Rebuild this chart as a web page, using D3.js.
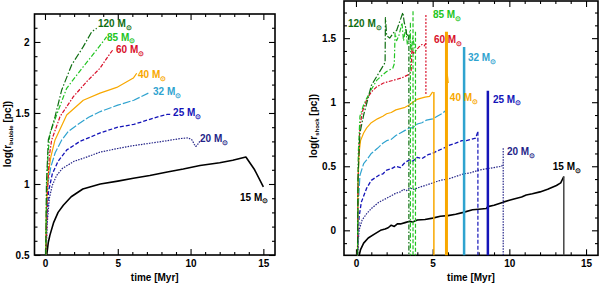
<!DOCTYPE html>
<html><head><meta charset="utf-8">
<script src="https://cdn.jsdelivr.net/npm/d3@7"></script>
<style>
body{margin:0;background:#fff}
svg{display:block}
text{font-family:"Liberation Sans",Arial,sans-serif;font-weight:bold;fill:#000}
</style>
</head><body>
<svg id="c" width="600" height="284"></svg>
<script>
// ---------- data ----------
const masses = ["120","85","60","40","32","25","20","15"];
const xTicks = [0,5,10,15];
const yTicksLeft = [0.5,1,1.5,2];
const yTicksRight = [0,0.5,1,1.5];
const xLabel = "time [Myr]";

// left panel: log(r_bubble [pc]) vs time [Myr]
const bubble120 = [[0.05,0.5],[0.1,1.0],[0.23,1.31],[0.69,1.474],[1.15,1.662],[1.83,1.838],[2.63,1.967],[3.21,2.072],[3.55,2.096]];
const bubble85  = [[0.06,0.5],[0.12,1.0],[0.2,1.2],[0.34,1.357],[0.92,1.52],[1.49,1.674],[2.63,1.826],[3.55,1.944],[4.24,2.037]];
const bubble60  = [[0.08,0.5],[0.15,0.9],[0.3,1.2],[0.46,1.31],[1.03,1.474],[1.95,1.615],[2.86,1.72],[3.78,1.815],[4.24,1.885],[4.7,1.95]];
const bubble40  = [[0.05,0.5],[0.1,0.85],[0.2,1.05],[0.4,1.19],[0.69,1.31],[1.49,1.486],[2.63,1.59],[3.78,1.64],[4.93,1.68],[6.07,1.746],[6.3,1.78]];
const bubble32  = [[0.06,0.5],[0.1,0.8],[0.2,1.0],[0.4,1.12],[0.7,1.22],[1.15,1.31],[1.6,1.37],[2.2,1.415],[3.0,1.47],[3.8,1.51],[5.0,1.555],[6.1,1.59],[7.1,1.64]];
const bubble25  = [[0.07,0.5],[0.12,0.75],[0.25,0.95],[0.5,1.07],[0.9,1.16],[1.5,1.24],[2.4,1.30],[3.8,1.36],[5.0,1.40],[6.1,1.42],[7.2,1.455],[7.8,1.475],[8.4,1.49],[8.6,1.49]];
const bubble20  = [[0.08,0.5],[0.15,0.72],[0.3,0.9],[0.5,0.99],[0.8,1.06],[1.2,1.11],[2.0,1.16],[2.6,1.18],[3.8,1.225],[5.0,1.25],[6.07,1.27],[7.2,1.287],[8.4,1.305],[9.3,1.32],[9.85,1.325],[10.1,1.31],[10.25,1.28],[10.35,1.265],[10.45,1.27],[10.55,1.29],[10.65,1.30]];
const bubble15  = [[0.12,0.5],[0.23,0.59],[0.34,0.64],[0.6,0.73],[0.9,0.80],[1.26,0.85],[1.8,0.91],[2.6,0.965],[3.8,1.0],[5.0,1.02],[6.07,1.04],[7.2,1.06],[8.4,1.085],[9.5,1.105],[10.65,1.13],[12.0,1.15],[12.9,1.167],[13.8,1.19],[14.4,1.10],[15.0,0.98]];

// right panel: log(r_shock [pc]) vs time [Myr]
const shock120 = [[0.1,-0.2],[0.13,0.4],[0.26,0.76],[0.5,0.9],[0.7,0.99],[1.0,1.13],[1.35,1.20],[1.75,1.28],[1.9,1.31],[1.92,1.66],[2.0,1.52],[2.2,1.50],[2.5,1.55],[2.65,1.56],[3.06,1.70],[3.15,1.62],[3.25,1.58],[3.3,1.53],[3.4,1.52],[3.45,1.47]];
const shock85  = [[0.1,-0.2],[0.15,0.6],[0.26,0.89],[0.5,0.98],[0.7,1.03],[1.0,1.10],[1.35,1.17],[1.7,1.21],[2.0,1.24],[2.4,1.265],[2.5,1.30],[2.55,1.54],[2.65,1.48],[2.8,1.52],[3.0,1.62],[3.1,1.48],[3.25,1.58],[3.35,1.45],[3.5,1.55],[3.6,1.40],[3.7,1.50],[3.85,1.42]];
const shock60  = [[0.1,-0.2],[0.15,0.5],[0.25,0.8],[0.4,0.92],[0.7,1.02],[1.0,1.08],[1.35,1.12],[1.8,1.15],[2.4,1.17],[3.0,1.19],[3.5,1.22],[3.6,1.25],[3.65,1.42],[3.75,1.38],[3.9,1.40],[4.1,1.43],[4.3,1.45],[4.45,1.44],[4.56,1.46]];
const shock40  = [[0.1,-0.2],[0.12,0.3],[0.2,0.6],[0.3,0.70],[0.5,0.76],[0.7,0.80],[1.0,0.84],[1.4,0.87],[1.75,0.89],[2.0,0.91],[2.3,0.92],[2.6,0.94],[2.9,0.95],[3.2,0.96],[3.5,0.98],[3.7,1.00],[3.95,1.02],[4.2,1.03],[4.5,1.04],[4.8,1.045],[5.0,1.08]];
const shock40b = [[5.95,1.22],[6.02,1.15]];
const shock32  = [[0.1,-0.2],[0.15,0.2],[0.26,0.43],[0.5,0.52],[0.7,0.55],[1.0,0.6],[1.4,0.64],[1.75,0.68],[2.0,0.70],[2.3,0.71],[2.6,0.74],[2.9,0.76],[3.2,0.78],[3.5,0.80],[3.7,0.80],[4.0,0.83],[4.3,0.84],[4.6,0.86],[5.0,0.87],[5.3,0.89],[5.6,0.91],[5.8,0.93],[5.9,0.92]];
const shock25  = [[0.1,-0.2],[0.2,0.1],[0.35,0.22],[0.7,0.33],[1.0,0.39],[1.5,0.43],[1.75,0.44],[2.0,0.47],[2.3,0.48],[2.6,0.50],[2.9,0.49],[3.2,0.53],[3.5,0.55],[3.7,0.54],[4.0,0.57],[4.3,0.56],[4.7,0.59],[5.0,0.60],[5.3,0.62],[5.7,0.64],[6.0,0.66],[6.5,0.68],[6.9,0.70],[7.2,0.70],[7.5,0.71],[7.8,0.72],[7.95,0.77]];
const shock20  = [[0.1,-0.2],[0.2,0.0],[0.4,0.08],[0.7,0.13],[1.0,0.17],[1.5,0.22],[2.0,0.25],[2.3,0.27],[2.6,0.29],[2.9,0.30],[3.1,0.32],[3.3,0.31],[3.5,0.33],[3.8,0.32],[4.0,0.33],[4.5,0.35],[5.0,0.37],[5.5,0.39],[6.0,0.40],[6.5,0.42],[7.0,0.44],[7.5,0.45],[8.0,0.47],[8.5,0.48],[9.0,0.49],[9.5,0.50],[9.6,0.52]];
const shock15  = [[0.2,-0.2],[0.3,-0.15],[0.5,-0.1],[0.8,-0.06],[1.2,-0.03],[1.6,0.0],[1.9,0.01],[2.1,0.02],[2.3,0.04],[2.5,0.03],[2.7,0.05],[2.9,0.05],[3.2,0.06],[3.5,0.07],[3.7,0.065],[4.0,0.08],[4.5,0.085],[5.0,0.095],[5.5,0.11],[6.0,0.115],[6.5,0.125],[7.0,0.14],[7.6,0.16],[8.0,0.165],[8.5,0.17],[8.6,0.185],[9.0,0.195],[9.6,0.22],[10.0,0.235],[10.3,0.245],[10.8,0.26],[11.1,0.275],[11.5,0.285],[12.0,0.30],[12.5,0.32],[13.07,0.35],[13.35,0.37],[13.55,0.42]];

// final collapse of the shell: [mass, time, top value, bottom value]
const shockDrops = [
  ["120",3.45,1.52,-0.2],
  ["85",3.55,1.62,-0.2],["85",3.72,1.71,-0.2],["85",3.88,1.55,-0.2],
  ["60",4.56,1.68,1.06],
  ["40",5.08,1.08,-0.2],["40",5.9,1.55,-0.2],
  ["32",7.05,1.43,-0.2],
  ["25",7.95,0.77,-0.2],["25",8.6,1.09,-0.2],
  ["20",9.6,0.64,-0.2],
  ["15",13.55,0.42,-0.2]
];

// label anchors (data coordinates)
const bubbleLabelPos = {"120":[3.64,2.127],"85":[4.26,2.035],"60":[4.88,1.944],"40":[6.39,1.768],"32":[7.42,1.648],"25":[8.8,1.50],"20":[10.65,1.317],"15":[13.4,0.908]};
const shockLabelPos  = {"120":[-0.52,1.612],"85":[5.02,1.682],"60":[5.08,1.487],"40":[6.12,1.033],"32":[7.3,1.346],"25":[8.93,1.025],"20":[9.84,0.612],"15":[12.83,0.495]};

// ---------- styles ----------
const style = {
  "120":{c:"#0f6e12",d:"7,2,1.5,2",w:1.2},
  "85": {c:"#22c422",d:"5,2,1.5,2",w:1.2},
  "60": {c:"#d8102a",d:"4,1.5,1.5,1.5",w:1.2},
  "40": {c:"#f8a800",d:null,w:1.2},
  "32": {c:"#2fa3cf",d:"8,2",w:1.2},
  "25": {c:"#1414b8",d:"4,2",w:1.3},
  "20": {c:"#242488",d:"1.5,1.2",w:1.2},
  "15": {c:"#000000",d:null,w:1.6}
};
const dropWidth = [1.2,1.2,1.2,1.2,1.2,1.5,3,2.5,1.2,2.5,1.2,1.5];
const dropDash  = ["5,2,1.5,2","5,2,1.5,2","4,2","4,2","2,1.5",null,null,null,"4,2",null,"1.5,1.2",null];

const svg = d3.select("#c");

function panel(opt){
  const g = svg.append("g");
  const x = d3.scaleLinear().domain(opt.xd).range([opt.px0,opt.px1]);
  const y = d3.scaleLinear().domain(opt.yd).range([opt.py1,opt.py0]);
  const id = "clip"+opt.name;
  svg.append("clipPath").attr("id",id).append("rect")
    .attr("x",opt.px0).attr("y",opt.py0).attr("width",opt.px1-opt.px0).attr("height",opt.py1-opt.py0);
  const minorX = d3.range(-0,16,1).filter(v=>!xTicks.includes(v));
  const minorY = d3.range(Math.ceil(opt.yd[0]*10), Math.floor(opt.yd[1]*10)+1).map(v=>v/10).filter(v=>!opt.yt.some(t=>Math.abs(t-v)<1e-6));
  const fmt = d => d3.format("")(d);
  // bottom
  g.append("g").attr("transform",`translate(0,${opt.py1})`).call(d3.axisBottom(x).tickValues(xTicks).tickSize(-6).tickPadding(5).tickFormat(fmt));
  g.append("g").attr("transform",`translate(0,${opt.py1})`).call(d3.axisBottom(x).tickValues(minorX).tickSize(-3).tickFormat(""));
  // top
  g.append("g").attr("transform",`translate(0,${opt.py0})`).call(d3.axisTop(x).tickValues(xTicks).tickSize(-6).tickFormat(""));
  g.append("g").attr("transform",`translate(0,${opt.py0})`).call(d3.axisTop(x).tickValues(minorX).tickSize(-3).tickFormat(""));
  // left
  g.append("g").attr("transform",`translate(${opt.px0},0)`).call(d3.axisLeft(y).tickValues(opt.yt).tickSize(-6).tickPadding(opt.lpad).tickFormat(fmt));
  g.append("g").attr("transform",`translate(${opt.px0},0)`).call(d3.axisLeft(y).tickValues(minorY).tickSize(-3).tickFormat(""));
  // right
  g.append("g").attr("transform",`translate(${opt.px1},0)`).call(d3.axisRight(y).tickValues(opt.yt).tickSize(-6).tickFormat(""));
  g.append("g").attr("transform",`translate(${opt.px1},0)`).call(d3.axisRight(y).tickValues(minorY).tickSize(-3).tickFormat(""));
  g.selectAll(".domain").remove();
  g.selectAll(".tick line").attr("stroke","#000").attr("stroke-width",1.1);
  g.selectAll(".tick text").attr("font-size",10).attr("font-family","Liberation Sans, Arial, sans-serif").attr("font-weight","bold").attr("fill","#000");
  // frame
  g.append("rect").attr("x",opt.px0).attr("y",opt.py0).attr("width",opt.px1-opt.px0).attr("height",opt.py1-opt.py0)
    .attr("fill","none").attr("stroke","#000").attr("stroke-width",1.6);
  // x label
  g.append("text").attr("x",(opt.px0+opt.px1)/2).attr("y",281).attr("text-anchor","middle").attr("font-size",10).text(xLabel);
  // y label
  const yl = g.append("text").attr("transform",`translate(${opt.ylx},${opt.yly}) rotate(-90)`).attr("text-anchor","middle").attr("font-size",10);
  yl.append("tspan").text("log(r");
  yl.append("tspan").attr("font-size",6).attr("dy",2).text(opt.sub);
  yl.append("tspan").attr("dy",-2).text(" [pc])");
  return {g,x,y,clip:`url(#${id})`};
}

function drawLabel(p, m, pos){
  const s = style[m];
  const t = p.g.append("text").attr("x",p.x(pos[0])).attr("y",p.y(pos[1])+3.5).attr("font-size",10).attr("fill",s.c);
  t.append("tspan").attr("fill",s.c).text(m+" M");
  t.append("tspan").attr("fill",s.c).attr("font-size",7).attr("dy",2.5).text("\u2299");
}

// ---------- left ----------
const L = panel({name:"L",xd:[-0.72,15.8],yd:[0.5,2.197],px0:34.5,px1:275,py0:14,py1:255,yt:yTicksLeft,lpad:5,ylx:11,yly:134,sub:"bubble"});
const bubbles = {"120":bubble120,"85":bubble85,"60":bubble60,"40":bubble40,"32":bubble32,"25":bubble25,"20":bubble20,"15":bubble15};
const lineL = d3.line().x(d=>L.x(d[0])).y(d=>L.y(d[1]));
const cl = L.g.append("g").attr("clip-path",L.clip);
masses.slice().reverse().forEach(m=>{
  const s = style[m];
  cl.append("path").attr("d",lineL(bubbles[m])).attr("fill","none").attr("stroke",s.c).attr("stroke-width",s.w)
    .attr("stroke-dasharray",s.d).attr("stroke-linejoin","round");
});
masses.forEach(m=>drawLabel(L,m,bubbleLabelPos[m]));

// ---------- right ----------
const R = panel({name:"R",xd:[-0.78,15.78],yd:[-0.195,1.79],px0:344,px1:598,py0:1,py1:255.3,yt:yTicksRight,lpad:8,ylx:317,yly:126,sub:"shock"});
const shocks = {"120":shock120,"85":shock85,"60":shock60,"40":shock40,"32":shock32,"25":shock25,"20":shock20,"15":shock15};
const lineR = d3.line().x(d=>R.x(d[0])).y(d=>R.y(d[1]));
const cr = R.g.append("g").attr("clip-path",R.clip);
masses.slice().reverse().forEach(m=>{
  const s = style[m];
  cr.append("path").attr("d",lineR(shocks[m])).attr("fill","none").attr("stroke",s.c).attr("stroke-width",s.w)
    .attr("stroke-dasharray",s.d).attr("stroke-linejoin","round");
});
cr.append("path").attr("d",lineR(shock40b)).attr("fill","none").attr("stroke",style["40"].c).attr("stroke-width",1.2);
shockDrops.forEach((d,i)=>{
  const s = style[d[0]];
  cr.append("line").attr("x1",R.x(d[1])).attr("x2",R.x(d[1])).attr("y1",R.y(d[2])).attr("y2",R.y(d[3]))
    .attr("stroke", d[0]==="15" ? "#444" : s.c).attr("stroke-width",dropWidth[i]).attr("stroke-dasharray",dropDash[i]);
});
masses.forEach(m=>drawLabel(R,m,shockLabelPos[m]));
</script>
</body></html>
